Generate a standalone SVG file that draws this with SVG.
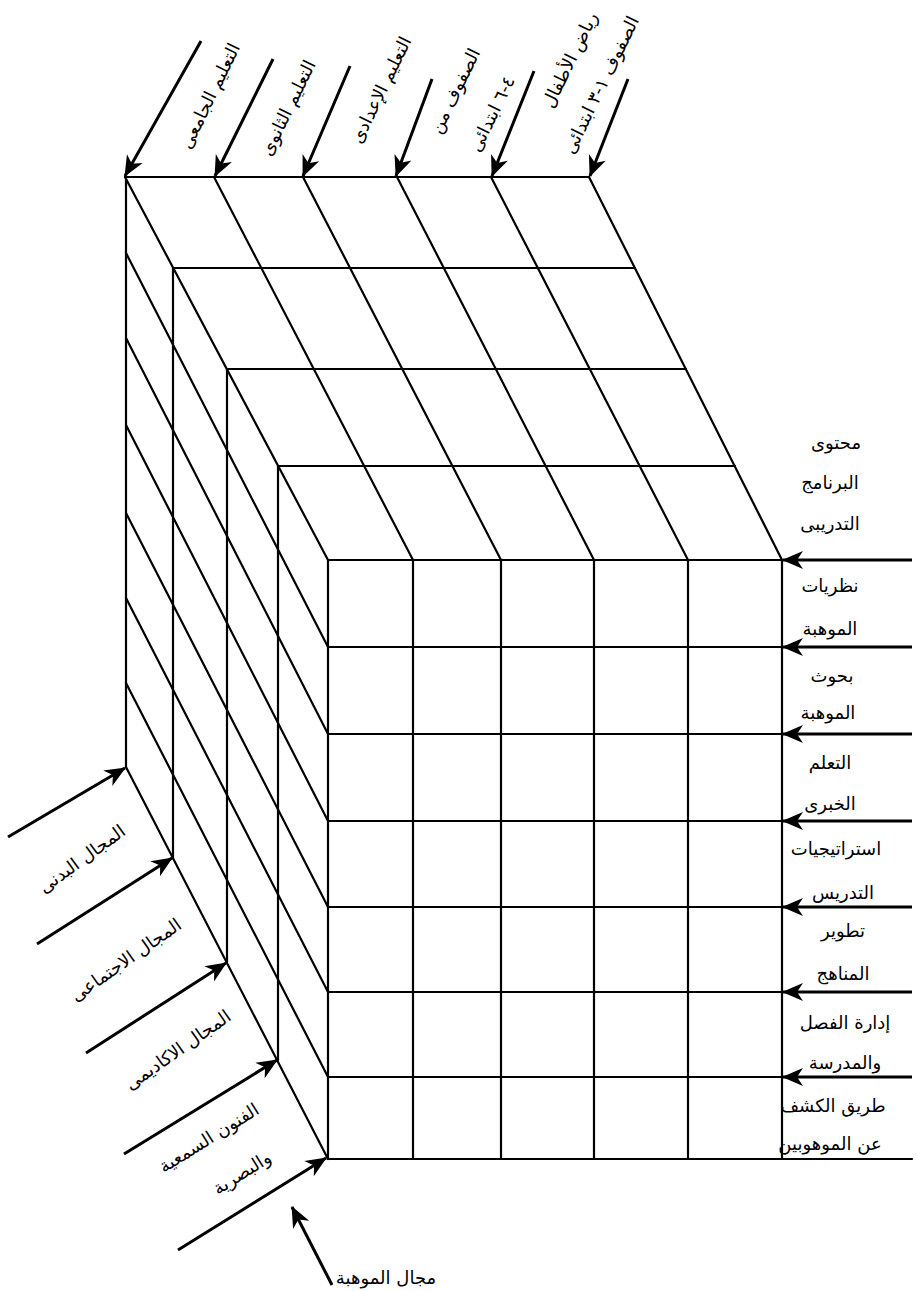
<svg xmlns="http://www.w3.org/2000/svg" width="916" height="1291" viewBox="0 0 916 1291">
<style>
.g{stroke:#000;stroke-width:2.2;fill:none;stroke-linecap:round}
.a{stroke:#000;stroke-width:3;fill:none;marker-end:url(#ah)}
.t{font-family:"DejaVu Sans","Noto Sans",sans-serif;font-size:18px;fill:#000;text-anchor:middle;direction:rtl}
</style>
<defs>
<marker id="ah" viewBox="-22 -11 24 22" markerWidth="24" markerHeight="22" refX="0" refY="0" orient="auto" markerUnits="userSpaceOnUse">
<path d="M1,0 L-20,-9 L-14,0 L-20,9 Z" fill="#000"/>
</marker>
</defs>
<rect width="916" height="1291" fill="#fff"/>
<g id="cube">
<line class="g" x1="125" y1="177" x2="589" y2="177"/>
<line class="g" x1="125" y1="177" x2="328" y2="560"/>
<line class="g" x1="214" y1="177" x2="413" y2="560"/>
<line class="g" x1="303" y1="177" x2="501" y2="560"/>
<line class="g" x1="397" y1="177" x2="594" y2="560"/>
<line class="g" x1="491" y1="177" x2="688" y2="560"/>
<line class="g" x1="589" y1="177" x2="782" y2="560"/>
<line class="g" x1="173" y1="268" x2="635" y2="268"/>
<line class="g" x1="227" y1="369" x2="686" y2="369"/>
<line class="g" x1="278" y1="466" x2="735" y2="466"/>
<line class="g" x1="126" y1="177" x2="126" y2="767"/>
<line class="g" x1="173" y1="268" x2="173" y2="858"/>
<line class="g" x1="227" y1="369" x2="227" y2="962"/>
<line class="g" x1="278" y1="466" x2="278" y2="1060"/>
<line class="g" x1="126" y1="253" x2="328" y2="647"/>
<line class="g" x1="126" y1="338" x2="328" y2="734"/>
<line class="g" x1="126" y1="425" x2="328" y2="821"/>
<line class="g" x1="126" y1="513" x2="328" y2="907"/>
<line class="g" x1="126" y1="598" x2="328" y2="992"/>
<line class="g" x1="126" y1="683" x2="328" y2="1077"/>
<line class="g" x1="126" y1="767" x2="328" y2="1159"/>
<line class="g" x1="328" y1="560" x2="328" y2="1159"/>
<line class="g" x1="413" y1="560" x2="413" y2="1159"/>
<line class="g" x1="501" y1="560" x2="501" y2="1159"/>
<line class="g" x1="594" y1="560" x2="594" y2="1159"/>
<line class="g" x1="688" y1="560" x2="688" y2="1159"/>
<line class="g" x1="782" y1="560" x2="782" y2="1159"/>
<line class="g" x1="328" y1="560" x2="782" y2="560"/>
<line class="g" x1="328" y1="647" x2="782" y2="647"/>
<line class="g" x1="328" y1="734" x2="782" y2="734"/>
<line class="g" x1="328" y1="821" x2="782" y2="821"/>
<line class="g" x1="328" y1="907" x2="782" y2="907"/>
<line class="g" x1="328" y1="992" x2="782" y2="992"/>
<line class="g" x1="328" y1="1077" x2="782" y2="1077"/>
<line class="g" x1="328" y1="1159" x2="912" y2="1159"/>
</g>
<g id="connectors">
<line class="a" x1="201" y1="41" x2="125" y2="176"/>
<line class="a" x1="273" y1="59" x2="215" y2="176"/>
<line class="a" x1="350" y1="66" x2="303" y2="176"/>
<line class="a" x1="432" y1="79" x2="396" y2="176"/>
<line class="a" x1="534" y1="71" x2="492" y2="176"/>
<line class="a" x1="628" y1="79" x2="590" y2="176"/>
<line class="a" x1="912" y1="560" x2="783" y2="560"/>
<line class="a" x1="912" y1="647" x2="783" y2="647"/>
<line class="a" x1="912" y1="734" x2="783" y2="734"/>
<line class="a" x1="912" y1="821" x2="783" y2="821"/>
<line class="a" x1="912" y1="907" x2="783" y2="907"/>
<line class="a" x1="912" y1="992" x2="783" y2="992"/>
<line class="a" x1="912" y1="1077" x2="783" y2="1077"/>
<line class="a" x1="8" y1="837" x2="125" y2="768"/>
<line class="a" x1="37" y1="944" x2="172" y2="858"/>
<line class="a" x1="86" y1="1053" x2="226" y2="963"/>
<line class="a" x1="124" y1="1154" x2="277" y2="1060"/>
<line class="a" x1="178" y1="1250" x2="326" y2="1158"/>
<line class="a" x1="332" y1="1285" x2="292" y2="1207"/>
</g>
<g id="top-labels">
<g id="l-university"><text class="t" transform="translate(210,96) rotate(-64)" y="6">التعليم الجامعى</text></g>
<g id="l-secondary"><text class="t" transform="translate(288,108) rotate(-64)" y="6">التعليم الثانوى</text></g>
<g id="l-preparatory"><text class="t" transform="translate(381,90) rotate(-64)" y="6">التعليم الإعدادى</text></g>
<g id="l-grades46"><text class="t" transform="translate(455,91) rotate(-64)" y="6">الصفوف من</text><text class="t" transform="translate(492,114) rotate(-64)" y="6">٤-٦ ابتدائى</text></g>
<g id="l-kg"><text class="t" transform="translate(570,60) rotate(-64)" y="6">رياض الأطفال</text><text class="t" transform="translate(601,85) rotate(-64)" y="6">الصفوف ١-٣ ابتدائى</text></g>
</g>
<g id="right-labels">
<g id="r-content"><text class="t" x="836" y="449">محتوى</text><text class="t" x="830" y="489">البرنامج</text><text class="t" x="830" y="530">التدريبى</text></g>
<g id="r-theories"><text class="t" x="830" y="592">نظريات</text><text class="t" x="830" y="635">الموهبة</text></g>
<g id="r-research"><text class="t" x="832" y="682">بحوث</text><text class="t" x="828" y="719">الموهبة</text></g>
<g id="r-learning"><text class="t" x="830" y="769">التعلم</text><text class="t" x="830" y="810">الخبرى</text></g>
<g id="r-strategies"><text class="t" x="836" y="855">استراتيجيات</text><text class="t" x="843" y="899">التدريس</text></g>
<g id="r-curricula"><text class="t" x="843" y="937">تطوير</text><text class="t" x="843" y="980">المناهج</text></g>
<g id="r-management"><text class="t" x="845" y="1029">إدارة الفصل</text><text class="t" x="845" y="1069">والمدرسة</text></g>
<g id="r-identification"><text class="t" x="833" y="1112">طريق الكشف</text><text class="t" x="830" y="1150">عن الموهوبين</text></g>
</g>
<g id="left-labels">
<g id="d-physical"><text class="t" transform="translate(82,859) rotate(-36)" y="6">المجال البدنى</text></g>
<g id="d-social"><text class="t" transform="translate(126,960) rotate(-35)" y="6">المجال الاجتماعى</text></g>
<g id="d-academic"><text class="t" transform="translate(178,1050) rotate(-35)" y="6">المجال الاكاديمى</text></g>
<g id="d-arts"><text class="t" transform="translate(209,1138) rotate(-32)" y="6">الفنون السمعية</text><text class="t" transform="translate(242,1173) rotate(-32)" y="6">والبصرية</text></g>
</g>
<g id="bottom-label"><text class="t" x="386" y="1284">مجال الموهبة</text></g>
</svg>
